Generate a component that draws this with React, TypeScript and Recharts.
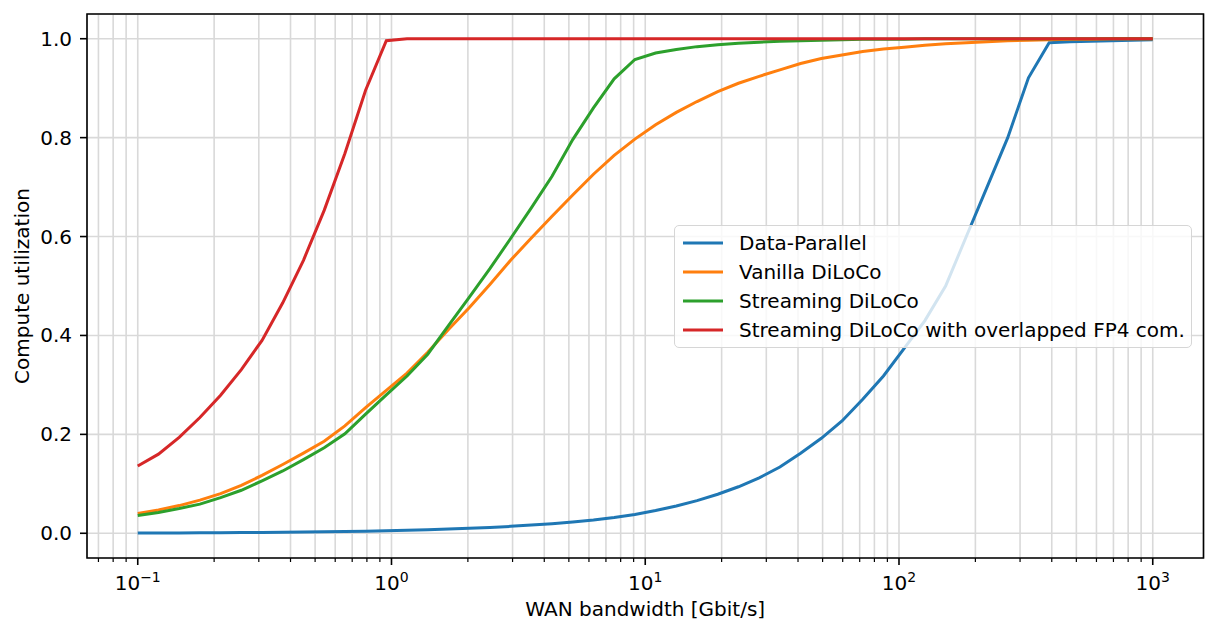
import React from 'react';
import {
  LineChart,
  Line,
  XAxis,
  YAxis,
  CartesianGrid,
  ReferenceArea,
  Label,
} from 'recharts';

// WAN bandwidth samples [Gbit/s], log spaced 0.1 .. 1000
const bandwidth = [
  0.1, 0.12068, 0.14563, 0.17575, 0.2121, 0.25595, 0.30888, 0.37276, 0.44984, 0.54287,
  0.65513, 0.7906, 0.9541, 1.1514, 1.3895, 1.67683, 2.02359, 2.44205, 2.94705, 3.55648,
  4.29193, 5.17947, 6.25055, 7.54312, 9.10298, 10.9854, 13.2571, 15.9986, 19.307, 23.2995,
  28.1177, 33.9322, 40.9492, 49.4171, 59.6362, 71.9686, 86.8511, 104.811, 126.486, 152.642,
  184.207, 222.3, 268.27, 323.746, 390.694, 471.487, 568.987, 686.649, 828.643, 1000,
];

const dataParallel = [
  0.0005, 0.0006, 0.0008, 0.001, 0.0012, 0.0014, 0.0017, 0.0021, 0.0025, 0.003,
  0.0036, 0.0043, 0.0051, 0.006, 0.0071, 0.0084, 0.01, 0.0118, 0.014, 0.0165,
  0.0195, 0.023, 0.027, 0.032, 0.038, 0.046, 0.055, 0.066, 0.079, 0.094,
  0.112, 0.134, 0.162, 0.192, 0.227, 0.271, 0.318, 0.374, 0.43, 0.5,
  0.6, 0.7, 0.8, 0.921, 0.992, 0.994, 0.995, 0.996, 0.997, 0.998,
];

const vanillaDiloco = [
  0.04, 0.047, 0.056, 0.067, 0.08, 0.097, 0.117, 0.139, 0.162, 0.186,
  0.217, 0.254, 0.289, 0.324, 0.366, 0.412, 0.456, 0.503, 0.552, 0.597,
  0.641, 0.684, 0.726, 0.764, 0.797, 0.826, 0.851, 0.873, 0.893, 0.91,
  0.924, 0.937, 0.95, 0.96, 0.967, 0.974, 0.979, 0.983, 0.987, 0.99,
  0.992, 0.994, 0.996, 0.997, 0.998, 0.999, 0.999, 1.0, 1.0, 1.0,
];

const streamingDiloco = [
  0.036, 0.042, 0.05, 0.059, 0.072, 0.087, 0.106, 0.126, 0.149, 0.173,
  0.201, 0.241, 0.28, 0.318, 0.362, 0.42, 0.477, 0.535, 0.596, 0.658,
  0.722, 0.796, 0.86, 0.919, 0.958, 0.971, 0.978, 0.984, 0.988, 0.991,
  0.993, 0.995, 0.996, 0.997, 0.998, 0.999, 0.999, 0.999, 1.0, 1.0,
  1.0, 1.0, 1.0, 1.0, 1.0, 1.0, 1.0, 1.0, 1.0, 1.0,
];

const streamingFp4 = [
  0.136, 0.16, 0.194, 0.234, 0.279, 0.331, 0.39, 0.466, 0.552, 0.653,
  0.768, 0.896, 0.996, 1.0, 1.0, 1.0, 1.0, 1.0, 1.0, 1.0,
  1.0, 1.0, 1.0, 1.0, 1.0, 1.0, 1.0, 1.0, 1.0, 1.0,
  1.0, 1.0, 1.0, 1.0, 1.0, 1.0, 1.0, 1.0, 1.0, 1.0,
  1.0, 1.0, 1.0, 1.0, 1.0, 1.0, 1.0, 1.0, 1.0, 1.0,
];

const seriesKeys = ['dp', 'vanilla', 'streaming', 'fp4'];
const seriesNames = [
  'Data-Parallel',
  'Vanilla DiLoCo',
  'Streaming DiLoCo',
  'Streaming DiLoCo with overlapped FP4 com.',
];
const seriesColors = ['#1f77b4', '#ff7f0e', '#2ca02c', '#d62728'];

const majorTicks = [0.1, 1, 10, 100, 1000];
const majorExponents = ['\u22121', '0', '1', '2', '3'];
const minorTicks = [
  0.07, 0.08, 0.09,
  0.2, 0.3, 0.4, 0.5, 0.6, 0.7, 0.8, 0.9,
  2, 3, 4, 5, 6, 7, 8, 9,
  20, 30, 40, 50, 60, 70, 80, 90,
  200, 300, 400, 500, 600, 700, 800, 900,
];
const yTicks = [0, 0.2, 0.4, 0.6, 0.8, 1.0];

const chartData = bandwidth.map((bw, i) => ({
  bw,
  dp: dataParallel[i],
  vanilla: vanillaDiloco[i],
  streaming: streamingDiloco[i],
  fp4: streamingFp4[i],
}));

const FONT = '"DejaVu Sans", sans-serif';
const W = 1217;
const H = 635;
const PLOT_LEFT = 87;
const PLOT_TOP = 14;
const PLOT_RIGHT = 1203.5;
const PLOT_BOTTOM = 558;
const X_DOMAIN = [0.0631, 1585];
const Y_DOMAIN = [-0.05, 1.05];

function BandwidthTick(props: any) {
  const { x, payload } = props;
  const idx = majorTicks.indexOf(payload.value);
  const major = idx >= 0;
  return (
    <g>
      <line
        x1={x}
        x2={x}
        y1={PLOT_BOTTOM}
        y2={PLOT_BOTTOM + (major ? 7 : 4)}
        stroke="#000"
        strokeWidth={major ? 1.6 : 1.2}
      />
      {major && (
        <text x={x} y={590} textAnchor="middle" fontFamily={FONT} fontSize={20} fill="#000">
          10
          <tspan dy={-8} fontSize={14}>
            {majorExponents[idx]}
          </tspan>
        </text>
      )}
    </g>
  );
}

function UtilTick(props: any) {
  const { y, payload } = props;
  return (
    <g>
      <line x1={PLOT_LEFT - 7} x2={PLOT_LEFT} y1={y} y2={y} stroke="#000" strokeWidth={1.6} />
      <text x={72} y={y + 7} textAnchor="end" fontFamily={FONT} fontSize={20} fill="#000">
        {Number(payload.value).toFixed(1)}
      </text>
    </g>
  );
}

// legend box drawn over the chart, like matplotlib's semi transparent frame
function SeriesLegend() {
  const rows = [17, 46, 75, 104];
  return (
    <div
      style={{
        position: 'absolute',
        left: 674,
        top: 225,
        width: 518,
        height: 123,
        boxSizing: 'border-box',
        border: '1.6px solid #d6d6d6',
        borderRadius: 5,
        background: 'rgba(255,255,255,0.8)',
      }}
    >
      <svg width={515} height={120} style={{ display: 'block', position: 'absolute', left: 0, top: 0 }}>
        {seriesNames.map((name, i) => (
          <g key={name}>
            <line x1={8} x2={48} y1={rows[i]} y2={rows[i]} stroke={seriesColors[i]} strokeWidth={3} />
            <text x={64} y={rows[i] + 7} fontFamily={FONT} fontSize={20} fill="#000">
              {name}
            </text>
          </g>
        ))}
      </svg>
    </div>
  );
}

export default function App() {
  return (
    <div style={{ position: 'absolute', left: 0, top: 0, width: W, height: H, background: '#fff' }}>
      <LineChart
        width={W}
        height={H}
        data={chartData}
        margin={{ top: PLOT_TOP, right: W - PLOT_RIGHT, bottom: 0, left: 0 }}
      >
        <CartesianGrid stroke="#d9d9d9" strokeWidth={1.6} />
        <XAxis
          dataKey="bw"
          type="number"
          scale="log"
          domain={X_DOMAIN}
          allowDataOverflow
          ticks={[...minorTicks, ...majorTicks].sort((a, b) => a - b)}
          interval={0}
          tick={<BandwidthTick />}
          tickLine={false}
          axisLine={false}
          height={H - PLOT_BOTTOM}
        >
          <Label
            content={() => (
              <text
                x={(PLOT_LEFT + PLOT_RIGHT) / 2}
                y={616}
                textAnchor="middle"
                fontFamily={FONT}
                fontSize={20}
                fill="#000"
              >
                WAN bandwidth [Gbit/s]
              </text>
            )}
          />
        </XAxis>
        <YAxis
          type="number"
          domain={Y_DOMAIN}
          allowDataOverflow
          ticks={yTicks}
          interval={0}
          tick={<UtilTick />}
          tickLine={false}
          axisLine={false}
          width={PLOT_LEFT}
        >
          <Label
            content={() => (
              <text
                x={29}
                y={(PLOT_TOP + PLOT_BOTTOM) / 2}
                textAnchor="middle"
                fontFamily={FONT}
                fontSize={20}
                fill="#000"
                transform={`rotate(-90, 29, ${(PLOT_TOP + PLOT_BOTTOM) / 2})`}
              >
                Compute utilization
              </text>
            )}
          />
        </YAxis>
        {seriesKeys.map((key, i) => (
          <Line
            key={key}
            type="linear"
            dataKey={key}
            name={seriesNames[i]}
            stroke={seriesColors[i]}
            strokeWidth={3}
            dot={false}
            activeDot={false}
            isAnimationActive={false}
          />
        ))}
        <ReferenceArea
          x1={X_DOMAIN[0]}
          x2={X_DOMAIN[1]}
          y1={Y_DOMAIN[0]}
          y2={Y_DOMAIN[1]}
          fill="none"
          fillOpacity={0}
          stroke="#000"
          strokeWidth={1.6}
          ifOverflow="visible"
        />
      </LineChart>
      <SeriesLegend />
    </div>
  );
}
